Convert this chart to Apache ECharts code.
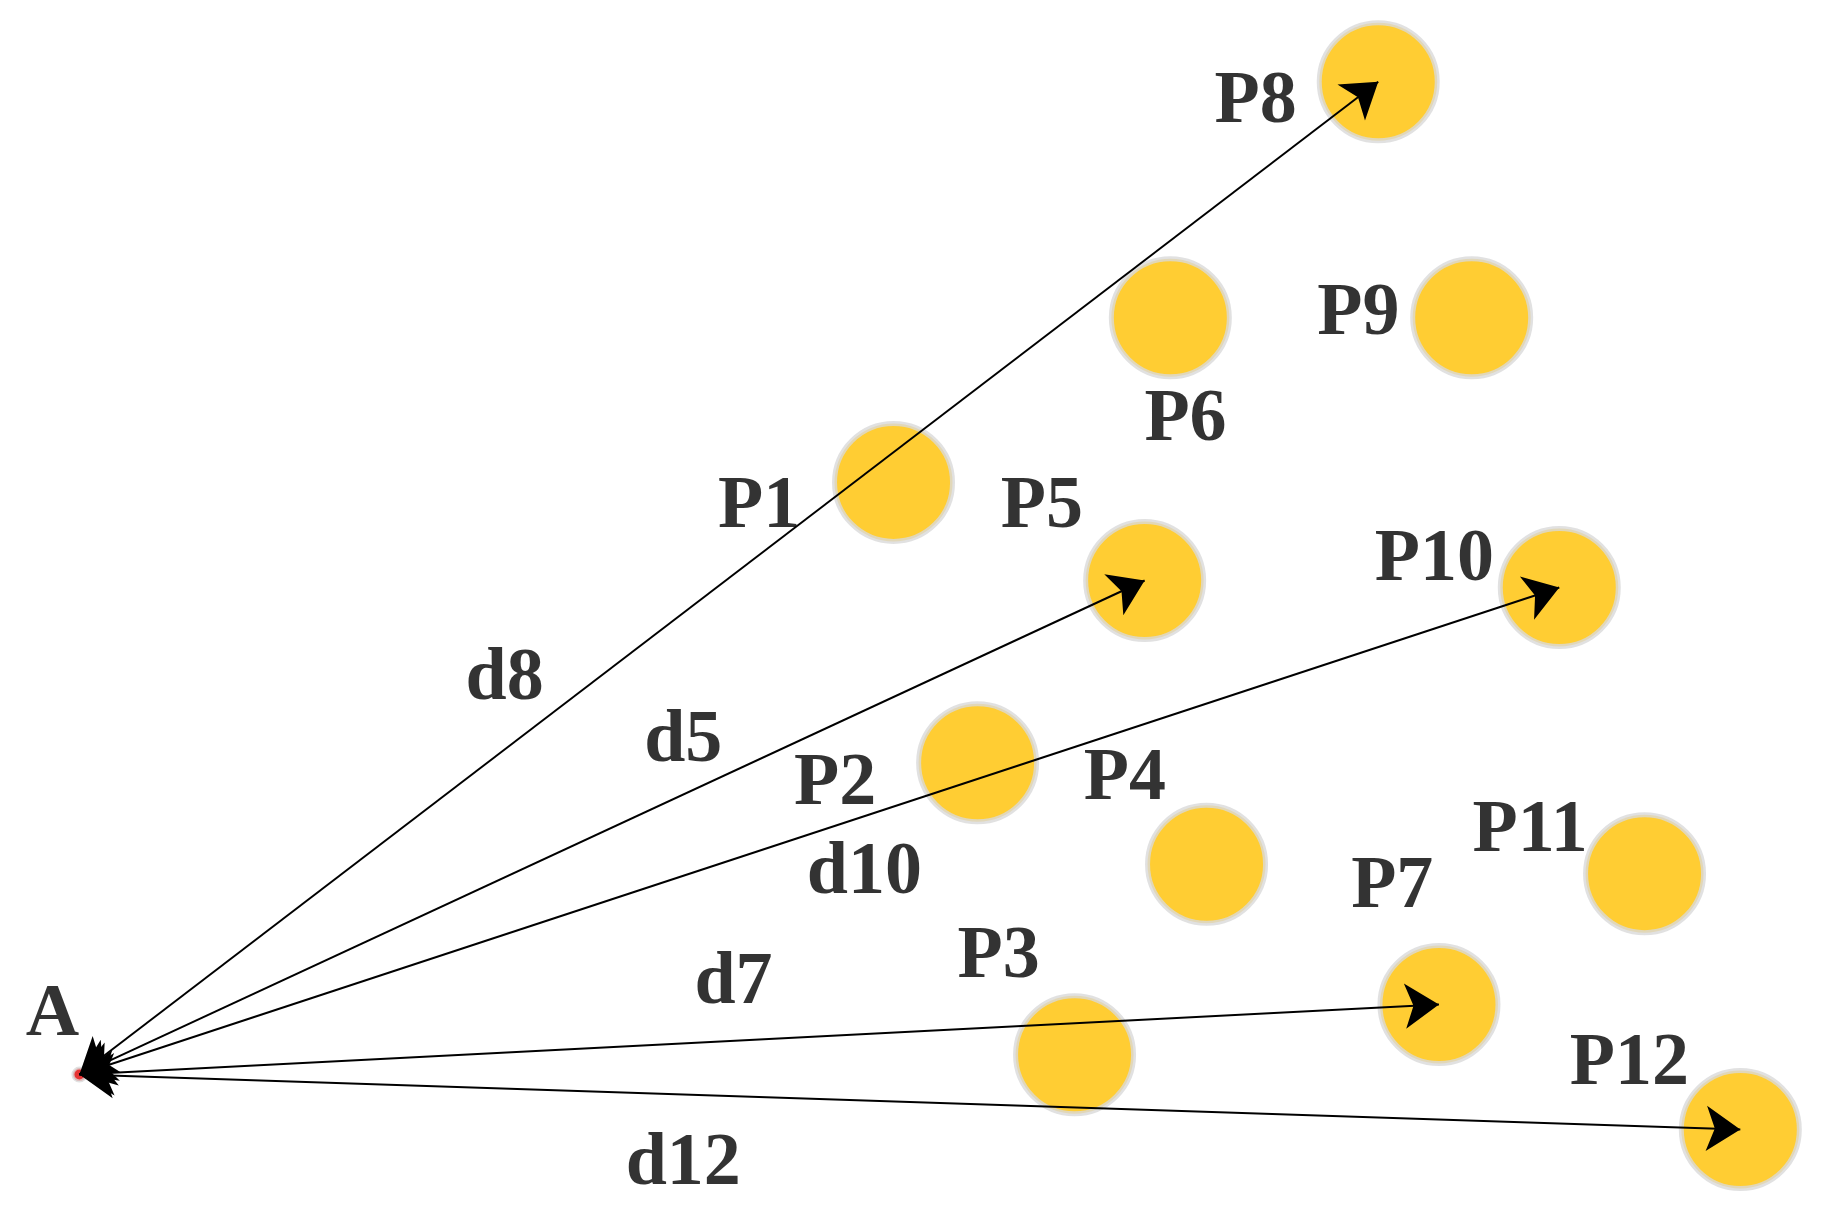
<!DOCTYPE html>
<html><head><meta charset="utf-8">
<script src="https://cdn.jsdelivr.net/npm/echarts@6/dist/echarts.min.js"></script>
<style>html,body{margin:0;padding:0;background:#fff}#c{width:1822px;height:1220px}</style>
</head><body><div id="c"></div>
<script>
const S = 1.168;
const names = ['P1','P2','P3','P4','P5','P6','P7','P8','P9','P10','P11','P12'];
const px = [765,837,920,1033,980,1002,1232,1180,1260,1335,1408,1490];
const py = [413,653,903,740,497,272,860,70,272,503,748,967];
const labelX = [650,715,855,963,892,1015,1192,1075,1163,1228,1310,1395];
const labelY = [435,672,820,668,435,360,760,88,270,480,712,912];
const origin = [68,920];
const arrowTargets = ['P8','P5','P10','P7','P12'];
const arrowNames = ['d8','d5','d10','d7','d12'];
const dLabelX = [432,585,740,628,585];
const dLabelY = [582,635,748,842,997];

const sc = v => v * S;
const font = {fontFamily:'Liberation Serif', fontWeight:'bold', fontSize:74, color:'#000'};
const chart = echarts.init(document.getElementById('c'));
const lines = arrowTargets.map(t => {
  const i = names.indexOf(t);
  return {coords:[[sc(origin[0]),sc(origin[1])],[sc(px[i]),sc(py[i])]]};
});
const texts = names.map((n,i)=>({value:[sc(labelX[i]),sc(labelY[i])], name:n}))
  .concat(arrowNames.map((n,i)=>({value:[sc(dLabelX[i]),sc(dLabelY[i])], name:n})))
  .concat([{value:[sc(45),sc(870)], name:'A'}]);
chart.setOption({
  animation:false,
  grid:{left:0,right:0,top:0,bottom:0},
  xAxis:{type:'value',min:0,max:1822,show:false},
  yAxis:{type:'value',min:0,max:1220,inverse:true,show:false},
  series:[
    {type:'scatter',symbolSize:118,z:1,
     itemStyle:{color:'#FFC000',borderColor:'#D9D9D9',borderWidth:5},
     data:names.map((n,i)=>[sc(px[i]),sc(py[i])])},
    {type:'scatter',symbolSize:13,z:2,
     itemStyle:{color:'#E00000',borderColor:'#D9D9D9',borderWidth:3},
     data:[[sc(origin[0]),sc(origin[1])]]},
    {type:'lines',coordinateSystem:'cartesian2d',z:3,
     symbol:['arrow','arrow'],symbolSize:[34,34],
     lineStyle:{color:'#000',width:2,opacity:1},
     data:lines},
    {type:'scatter',symbolSize:0,z:4,
     label:{show:true,position:'inside',formatter:p=>p.name,...font},
     data:texts}
  ]
});
</script></body></html>
